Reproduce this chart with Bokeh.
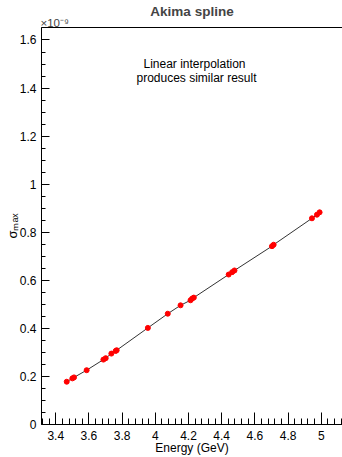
import numpy as np
from bokeh.plotting import figure
from bokeh.models import (LinearAxis, FixedTicker, CustomJSTickFormatter, Range1d, Title)
from bokeh.embed import file_html
from bokeh.resources import INLINE

# ---- data (sigma_max in units of 1e-9) ----
energy_gev = [3.466, 3.500, 3.510, 3.586, 3.687, 3.701, 3.735, 3.761, 3.767,
              3.955, 4.075, 4.152, 4.212, 4.222, 4.232, 4.442, 4.463, 4.477,
              4.703, 4.713, 4.944, 4.974, 4.990]
sigma_max = [0.178, 0.192, 0.196, 0.226, 0.270, 0.276, 0.295, 0.306, 0.309,
             0.402, 0.461, 0.496, 0.517, 0.524, 0.528, 0.624, 0.634, 0.641,
             0.742, 0.748, 0.858, 0.873, 0.883]

x_ticks = [3.4, 3.6, 3.8, 4.0, 4.2, 4.4, 4.6, 4.8, 5.0]
y_ticks = [0.0, 0.2, 0.4, 0.6, 0.8, 1.0, 1.2, 1.4, 1.6]

title_text = "Akima spline"
multiplier_text = "\u00d710\u207b\u2079"
note_lines = ["Linear interpolation", "produces similar result"]
x_title = "Energy (GeV)"
y_title = "\u03c3\u2098\u2090\u2093"

FONT = "Liberation Sans"
X0, X1 = 3.314, 5.128
Y0, Y1 = 0.0, 1.652

p = figure(width=342, height=457, output_backend="svg", toolbar_location=None,
           title=None,
           x_range=Range1d(X0, X1), y_range=Range1d(Y0, Y1),
           min_border_left=41, min_border_right=0, min_border_top=27,
           min_border_bottom=33, x_axis_type=None, y_axis_type=None)
p.outline_line_color = None
p.grid.visible = False
p.background_fill_color = "white"
p.border_fill_color = "white"

fmt = CustomJSTickFormatter(code="return Number(tick.toPrecision(6)).toString();")

x_minor = [round(v, 3) for v in np.arange(3.32, 5.13, 0.04)]
y_minor = [round(v, 3) for v in np.arange(0.0, 1.66, 0.05)]

xaxis = LinearAxis(ticker=FixedTicker(ticks=x_ticks, minor_ticks=x_minor), formatter=fmt)
yaxis = LinearAxis(ticker=FixedTicker(ticks=y_ticks, minor_ticks=y_minor), formatter=fmt)
for ax, tin, tmin in ((xaxis, 12, 6), (yaxis, 8, 4)):
    ax.major_tick_in = tin
    ax.major_tick_out = 0
    ax.minor_tick_in = tmin
    ax.minor_tick_out = 0
    ax.axis_line_color = "black"
    ax.major_tick_line_color = "black"
    ax.minor_tick_line_color = "black"
    ax.major_label_text_font = FONT
    ax.major_label_text_font_size = "12px"
    ax.major_label_text_color = "black"
    ax.axis_label_text_font = FONT
    ax.axis_label_text_font_size = "12px"
    ax.axis_label_text_font_style = "normal"
    ax.axis_label_text_color = "black"
xaxis.major_label_standoff = 6
xaxis.axis_label = x_title
xaxis.axis_label_standoff = -2
yaxis.major_label_standoff = 5
yaxis.axis_label = y_title
yaxis.axis_label_standoff = -3
yaxis.axis_label_text_font_size = "13px"
p.add_layout(xaxis, "below")
p.add_layout(yaxis, "left")

top_axis = LinearAxis(ticker=FixedTicker(ticks=[]), major_label_text_font_size="0px",
                      major_label_standoff=0,
                      major_tick_line_color=None, minor_tick_line_color=None,
                      axis_line_color="black")
p.add_layout(top_axis, "above")
p.add_layout(Title(text=multiplier_text, align="left", offset=-1, standoff=-2,
                   text_font=FONT, text_font_size="11.5px", text_font_style="normal",
                   vertical_align="bottom"), "above")
p.add_layout(Title(text=title_text, align="center", standoff=-6,
                   text_font=FONT, text_font_size="13.5px", text_font_style="bold",
                   vertical_align="bottom"), "above")

p.line(energy_gev, sigma_max, line_color="#333333", line_width=1)
p.scatter(energy_gev, sigma_max, size=5, fill_color="#ff0000", line_color="#ff0000")

note_x = [4.236, 4.248]
note_y = [1.499, 1.441]
p.text(x=note_x, y=note_y, text=note_lines, text_font={"value": FONT},
       text_font_size="12px", text_align="center", text_baseline="middle",
       text_color="black")

open("out.html", "w").write(file_html(p, INLINE))
